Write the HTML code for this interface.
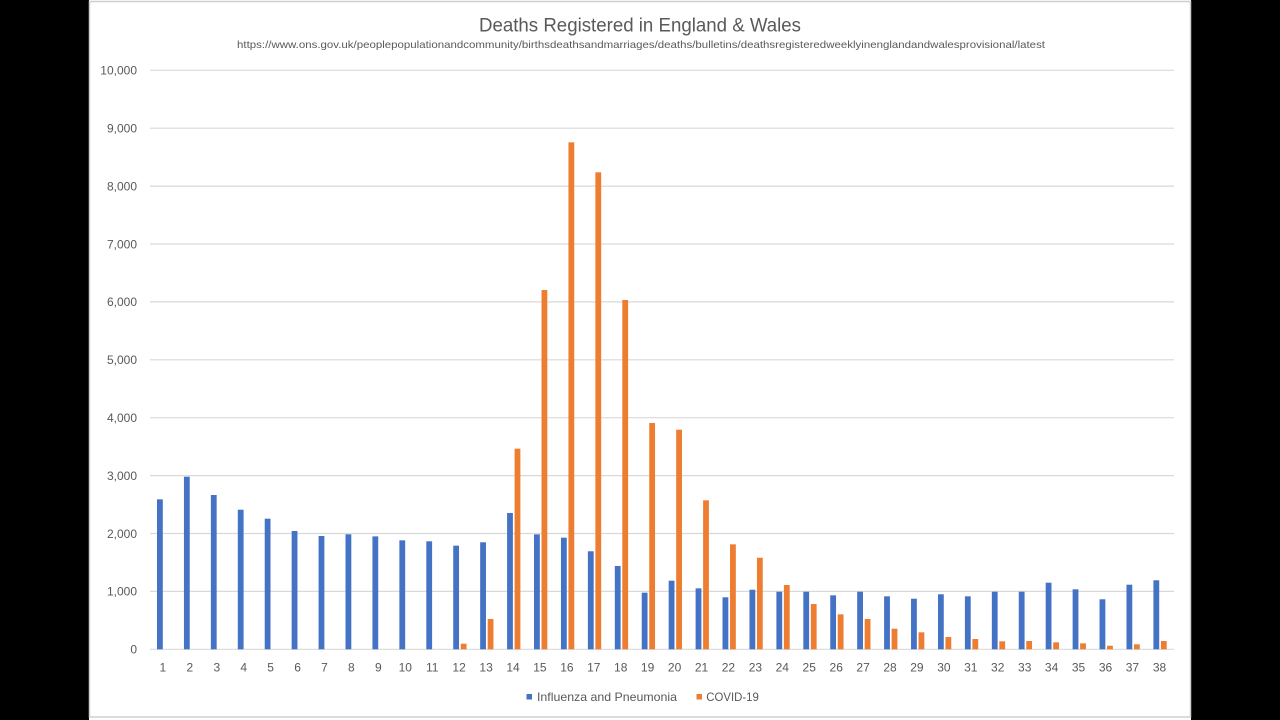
<!DOCTYPE html>
<html>
<head>
<meta charset="utf-8">
<style>
html,body{margin:0;padding:0;background:#000;}
body{width:1280px;height:720px;overflow:hidden;}
svg{display:block;}
text{font-family:"Liberation Sans",Arial,sans-serif;fill:#595959;}
</style>
</head>
<body>
<svg width="1280" height="720" viewBox="0 0 1280 720" xmlns="http://www.w3.org/2000/svg">
  <rect x="0" y="0" width="1280" height="720" fill="#000"/>
  <rect x="89" y="0" width="1102" height="720" fill="#ffffff"/>
  <rect x="89.5" y="1.5" width="1101" height="715.5" fill="none" stroke="#cfcfcf" stroke-width="1.5"/>

  <!-- Title -->
  <text x="640" y="31.5" font-size="19" text-anchor="middle" textLength="322" lengthAdjust="spacingAndGlyphs">Deaths Registered in England &amp; Wales</text>
  <text x="641" y="48" font-size="10.5" text-anchor="middle" textLength="808" lengthAdjust="spacingAndGlyphs">https://www.ons.gov.uk/peoplepopulationandcommunity/birthsdeathsandmarriages/deaths/bulletins/deathsregisteredweeklyinenglandandwalesprovisional/latest</text>

  <!-- Gridlines -->
  <g stroke="#d9d9d9" stroke-width="1.2">
    <line x1="150" y1="70.3" x2="1174" y2="70.3"/>
    <line x1="150" y1="128.2" x2="1174" y2="128.2"/>
    <line x1="150" y1="186.1" x2="1174" y2="186.1"/>
    <line x1="150" y1="244.0" x2="1174" y2="244.0"/>
    <line x1="150" y1="301.9" x2="1174" y2="301.9"/>
    <line x1="150" y1="359.8" x2="1174" y2="359.8"/>
    <line x1="150" y1="417.7" x2="1174" y2="417.7"/>
    <line x1="150" y1="475.6" x2="1174" y2="475.6"/>
    <line x1="150" y1="533.5" x2="1174" y2="533.5"/>
    <line x1="150" y1="591.4" x2="1174" y2="591.4"/>
    <line x1="150" y1="649.3" x2="1174" y2="649.3"/>
  </g>

  <!-- Y labels -->
  <g font-size="12" text-anchor="end">
    <text x="137" y="74.6">10,000</text>
    <text x="137" y="132.5">9,000</text>
    <text x="137" y="190.4">8,000</text>
    <text x="137" y="248.3">7,000</text>
    <text x="137" y="306.2">6,000</text>
    <text x="137" y="364.1">5,000</text>
    <text x="137" y="422.0">4,000</text>
    <text x="137" y="479.9">3,000</text>
    <text x="137" y="537.8">2,000</text>
    <text x="137" y="595.7">1,000</text>
    <text x="137" y="653.6">0</text>
  </g>

  <!-- Bars (data units vertically) -->
  <g transform="translate(0,649.3) scale(1,-0.0579)">
    <g fill="#4472C4">
      <rect x="157.00" y="0" width="5.8" height="2590"/>
      <rect x="183.93" y="0" width="5.8" height="2981"/>
      <rect x="210.86" y="0" width="5.8" height="2665"/>
      <rect x="237.79" y="0" width="5.8" height="2411"/>
      <rect x="264.72" y="0" width="5.8" height="2256"/>
      <rect x="291.65" y="0" width="5.8" height="2043"/>
      <rect x="318.58" y="0" width="5.8" height="1957"/>
      <rect x="345.51" y="0" width="5.8" height="1986"/>
      <rect x="372.44" y="0" width="5.8" height="1950"/>
      <rect x="399.37" y="0" width="5.8" height="1882"/>
      <rect x="426.30" y="0" width="5.8" height="1865"/>
      <rect x="453.23" y="0" width="5.8" height="1790"/>
      <rect x="480.16" y="0" width="5.8" height="1848"/>
      <rect x="507.09" y="0" width="5.8" height="2354"/>
      <rect x="534.02" y="0" width="5.8" height="1985"/>
      <rect x="560.95" y="0" width="5.8" height="1928"/>
      <rect x="587.88" y="0" width="5.8" height="1693"/>
      <rect x="614.81" y="0" width="5.8" height="1439"/>
      <rect x="641.74" y="0" width="5.8" height="978"/>
      <rect x="668.67" y="0" width="5.8" height="1185"/>
      <rect x="695.60" y="0" width="5.8" height="1053"/>
      <rect x="722.53" y="0" width="5.8" height="898"/>
      <rect x="749.46" y="0" width="5.8" height="1029"/>
      <rect x="776.39" y="0" width="5.8" height="995"/>
      <rect x="803.32" y="0" width="5.8" height="995"/>
      <rect x="830.25" y="0" width="5.8" height="932"/>
      <rect x="857.18" y="0" width="5.8" height="995"/>
      <rect x="884.11" y="0" width="5.8" height="915"/>
      <rect x="911.04" y="0" width="5.8" height="874"/>
      <rect x="937.97" y="0" width="5.8" height="950"/>
      <rect x="964.90" y="0" width="5.8" height="915"/>
      <rect x="991.83" y="0" width="5.8" height="995"/>
      <rect x="1018.76" y="0" width="5.8" height="995"/>
      <rect x="1045.69" y="0" width="5.8" height="1150"/>
      <rect x="1072.62" y="0" width="5.8" height="1036"/>
      <rect x="1099.55" y="0" width="5.8" height="864"/>
      <rect x="1126.48" y="0" width="5.8" height="1116"/>
      <rect x="1153.41" y="0" width="5.8" height="1192"/>
    </g>
    <g fill="#ED7D31">
      <rect x="460.73" y="0" width="5.8" height="97"/>
      <rect x="487.66" y="0" width="5.8" height="523"/>
      <rect x="514.59" y="0" width="5.8" height="3465"/>
      <rect x="541.52" y="0" width="5.8" height="6205"/>
      <rect x="568.45" y="0" width="5.8" height="8756"/>
      <rect x="595.38" y="0" width="5.8" height="8238"/>
      <rect x="622.31" y="0" width="5.8" height="6033"/>
      <rect x="649.24" y="0" width="5.8" height="3909"/>
      <rect x="676.17" y="0" width="5.8" height="3793"/>
      <rect x="703.10" y="0" width="5.8" height="2573"/>
      <rect x="730.03" y="0" width="5.8" height="1813"/>
      <rect x="756.96" y="0" width="5.8" height="1582"/>
      <rect x="783.89" y="0" width="5.8" height="1110"/>
      <rect x="810.82" y="0" width="5.8" height="782"/>
      <rect x="837.75" y="0" width="5.8" height="604"/>
      <rect x="864.68" y="0" width="5.8" height="523"/>
      <rect x="891.61" y="0" width="5.8" height="356"/>
      <rect x="918.54" y="0" width="5.8" height="293"/>
      <rect x="945.47" y="0" width="5.8" height="212"/>
      <rect x="972.40" y="0" width="5.8" height="178"/>
      <rect x="999.33" y="0" width="5.8" height="138"/>
      <rect x="1026.26" y="0" width="5.8" height="143"/>
      <rect x="1053.19" y="0" width="5.8" height="120"/>
      <rect x="1080.12" y="0" width="5.8" height="103"/>
      <rect x="1107.05" y="0" width="5.8" height="62"/>
      <rect x="1133.98" y="0" width="5.8" height="86"/>
      <rect x="1160.91" y="0" width="5.8" height="143"/>
    </g>
  </g>

  <!-- X labels -->
  <g font-size="12" text-anchor="middle">
    <text x="162.9" y="671.5">1</text>
    <text x="189.8" y="671.5">2</text>
    <text x="216.8" y="671.5">3</text>
    <text x="243.7" y="671.5">4</text>
    <text x="270.6" y="671.5">5</text>
    <text x="297.6" y="671.5">6</text>
    <text x="324.5" y="671.5">7</text>
    <text x="351.4" y="671.5">8</text>
    <text x="378.3" y="671.5">9</text>
    <text x="405.3" y="671.5">10</text>
    <text x="432.2" y="671.5">11</text>
    <text x="459.1" y="671.5">12</text>
    <text x="486.1" y="671.5">13</text>
    <text x="513.0" y="671.5">14</text>
    <text x="539.9" y="671.5">15</text>
    <text x="566.9" y="671.5">16</text>
    <text x="593.8" y="671.5">17</text>
    <text x="620.7" y="671.5">18</text>
    <text x="647.6" y="671.5">19</text>
    <text x="674.6" y="671.5">20</text>
    <text x="701.5" y="671.5">21</text>
    <text x="728.4" y="671.5">22</text>
    <text x="755.4" y="671.5">23</text>
    <text x="782.3" y="671.5">24</text>
    <text x="809.2" y="671.5">25</text>
    <text x="836.2" y="671.5">26</text>
    <text x="863.1" y="671.5">27</text>
    <text x="890.0" y="671.5">28</text>
    <text x="916.9" y="671.5">29</text>
    <text x="943.9" y="671.5">30</text>
    <text x="970.8" y="671.5">31</text>
    <text x="997.7" y="671.5">32</text>
    <text x="1024.7" y="671.5">33</text>
    <text x="1051.6" y="671.5">34</text>
    <text x="1078.5" y="671.5">35</text>
    <text x="1105.5" y="671.5">36</text>
    <text x="1132.4" y="671.5">37</text>
    <text x="1159.5" y="671.5">38</text>
  </g>

  <!-- Legend -->
  <rect x="526.5" y="694" width="5.5" height="5.5" fill="#4472C4"/>
  <text x="537" y="701" font-size="12" textLength="140" lengthAdjust="spacingAndGlyphs">Influenza and Pneumonia</text>
  <rect x="696.5" y="694" width="5.5" height="5.5" fill="#ED7D31"/>
  <text x="706.3" y="701" font-size="12" textLength="52.5" lengthAdjust="spacingAndGlyphs">COVID-19</text>
</svg>
</body>
</html>
